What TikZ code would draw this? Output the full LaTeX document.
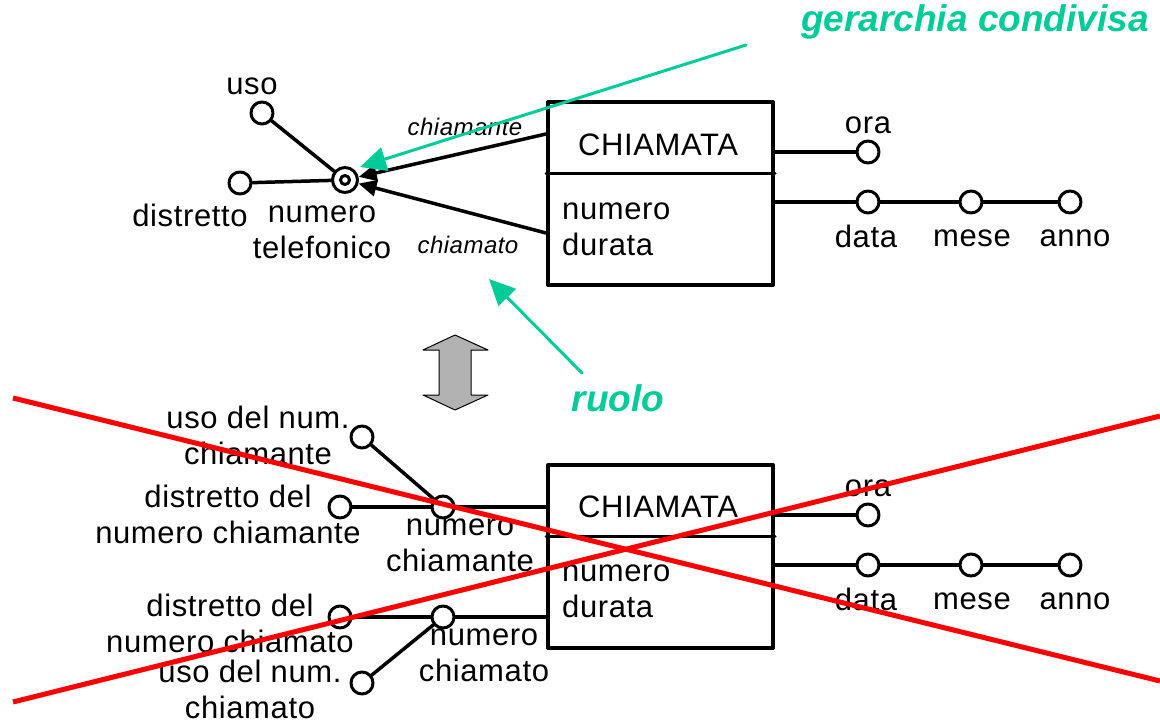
\documentclass[tikz,border=0pt]{standalone}
\usepackage{fontspec}
\setmainfont{Liberation Sans}
\usetikzlibrary{arrows.meta}
\definecolor{verde}{RGB}{0,204,153}
\definecolor{grigio}{RGB}{178,178,178}
\begin{document}
\begin{tikzpicture}[line cap=round,line join=round,>={Triangle[length=18pt,width=16pt]},x=1pt,y=-1pt,
	attr/.style={circle,draw,line width=3pt,fill=white,minimum size=22pt,inner sep=0pt},
	idf/.style={attr,minimum size=25pt},
	ent/.style={draw,line width=4pt,minimum width=225pt,minimum height=183pt,inner sep=0pt},
	lab/.style={font=\fontsize{31}{36}\selectfont\addfontfeature{LetterSpace=2},inner sep=0pt,align=center},
	ruolo/.style={font=\fontsize{24}{28}\selectfont\itshape\addfontfeature{LetterSpace=2},inner sep=0pt},
	nota/.style={font=\fontsize{37}{40}\selectfont\bfseries\itshape,text=verde,inner sep=0pt},
	link/.style={line width=3.5pt},
	freccia/.style={verde,line width=3pt,-{Triangle[length=26pt,width=24pt]}},
	croce/.style={red,line width=5pt,line cap=butt}]
		\useasboundingbox (0,0) rectangle (1160,725);
		\node[ent] (chiam) at (660.5,193.5) {};
		\draw [line width=3pt] (chiam.west |- 0,173)--(chiam.east |- 0,173);
		\node[lab] (nome) at (658,145) {CHIAMATA};
		\node[lab,anchor=west,align=left] (attr) at (562,229) {numero\\durata};
		\node[idf] (tel) at (345,180) {};
		\draw [line width=3pt] (tel.center) circle (4.5pt);
		\node[attr] (uso) at (262,113) {};
		\node[attr] (dist) at (240,183) {};
		\node[attr] (ora) at (868,152) {};
		\node[attr] (data) at (868,202) {};
		\node[attr] (mese) at (971,202) {};
		\node[attr] (anno) at (1070,202) {};
		\draw [link] (uso)--(tel);
		\draw [link] (dist)--(tel);
		\draw [link] (chiam.east |- ora)--(ora);
		\draw [link] (chiam.east |- data)--(data)--(mese)--(anno);
		\draw [link,->] (chiam.west |- 0,134)--(tel);
		\draw [link,->] (chiam.west |- 0,233)--(tel);
		\node[lab] (luso) at (252,86) {uso};
		\node[lab] (ldist) at (190,215) {distretto};
		\node[lab] (ltel) at (322,232) {numero\\telefonico};
		\node[ruolo] (lchte) at (465,127) {chiamante};
		\node[ruolo] (lchto) at (468,245) {chiamato};
		\node[lab] (lora) at (868,125) {ora};
		\node[lab] (ldata) at (866,236) {data};
		\node[lab] (lmese) at (972,238) {mese};
		\node[lab] (lanno) at (1075,238) {anno};
		\node[nota] (gerarchia) at (975,22) {gerarchia condivisa};
		\coordinate (g0) at (746,45);
		\draw [freccia] (g0)--(360,167);
		\node[nota] (ruolo) at (618,398) {ruolo};
		\coordinate (r0) at (582,373);
		\draw [freccia] (r0)--(489,279);
		\filldraw [fill=grigio,line width=1pt] (455,335)--(488,350)--(471,350)--(471,395)--(488,395)--(455,410)--(423,395)--(439,395)--(439,350)--(423,350)--cycle;
		\node[ent] (chiam2) at (660.5,556.5) {};
		\draw [line width=3pt] (chiam2.west |- 0,536)--(chiam2.east |- 0,536);
		\node[lab] (nome2) at (658,507) {CHIAMATA};
		\node[lab,anchor=west,align=left] (attr2) at (562,591) {numero\\durata};
		\node[attr] (unc) at (362,437) {};
		\node[attr] (dnc) at (340,507) {};
		\node[attr] (nc) at (443,507) {};
		\node[attr] (dno) at (340,617) {};
		\node[attr] (no) at (443,617) {};
		\node[attr] (uno) at (362,683) {};
		\node[attr] (ora2) at (868,515) {};
		\node[attr] (data2) at (868,565) {};
		\node[attr] (mese2) at (971,565) {};
		\node[attr] (anno2) at (1070,565) {};
		\draw [link] (unc)--(nc);
		\draw [link] (dnc)--(nc)--(chiam2.west |- nc);
		\draw [link] (uno)--(no);
		\draw [link] (dno)--(no)--(chiam2.west |- no);
		\draw [link] (chiam2.east |- ora2)--(ora2);
		\draw [link] (chiam2.east |- data2)--(data2)--(mese2)--(anno2);
		\node[lab] (lunc) at (258,435) {uso del num.\\chiamante};
		\node[lab] (ldnc) at (228,514) {distretto del\\numero chiamante};
		\node[lab] (lnc) at (460,545) {numero\\chiamante};
		\node[lab] (ldno) at (230,623) {distretto del\\numero chiamato};
		\node[lab] (luno) at (250,689) {uso del num.\\chiamato};
		\node[lab] (lno) at (484,655) {numero\\chiamato};
		\node[lab] (lora2) at (868,488) {ora};
		\node[lab] (ldata2) at (866,599) {data};
		\node[lab] (lmese2) at (972,601) {mese};
		\node[lab] (lanno2) at (1075,601) {anno};
		\draw [croce] (13,398)--(1160,681);
		\draw [croce] (13,702)--(1160,416);
	\end{tikzpicture}
\end{document}
